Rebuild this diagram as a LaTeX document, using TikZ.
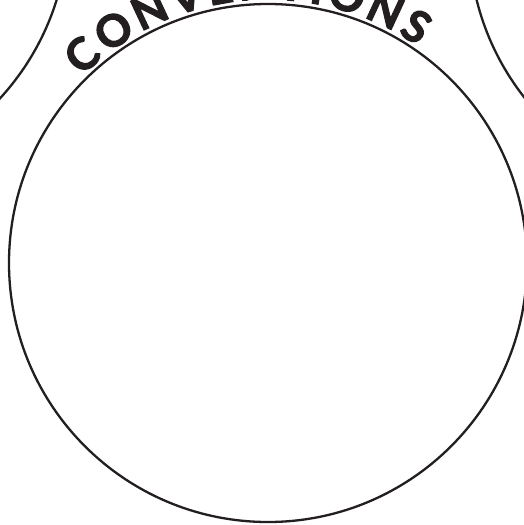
\documentclass[tikz,border=0pt]{standalone}
\usepackage{fontspec}
\newfontfamily\convfont{Lato}[BoldFeatures={FakeBold=2.5}]
\newcommand\convsize{\fontsize{44pt}{44pt}\selectfont}
\usetikzlibrary{calc}
\definecolor{ink}{HTML}{231F20}
\tikzset{
  ring/.style={draw=ink, line width=2.3pt},
  letter/.style={inner sep=0pt, text=ink, anchor=base}
}
\begin{document}
\begin{tikzpicture}[x=1pt,y=1pt]
\path[use as bounding box] (0,0) rectangle (524,-525);
\clip (0,0) rectangle (524,-525);
\coordinate (c) at (268,-263);
\coordinate (cl) at (-190.8,76.8);
\coordinate (cr) at (728.1,62.4);
\draw[ring] (c) circle[radius=259];
\draw[ring] (cl) circle[radius=259];
\draw[ring] (cr) circle[radius=259];
\foreach \ch/\ang [count=\i] in {C/131.8, O/123.6, N/115.1, V/107.1, E/100.0, N/92.6, T/85.1, I/79.7, O/73.5, N/65.1, S/57.9}
  \node[letter, rotate=\ang-90] (l\i) at ($(c)+(\ang:263.5)$) {\convfont\bfseries\convsize \ch};
\end{tikzpicture}
\end{document}
